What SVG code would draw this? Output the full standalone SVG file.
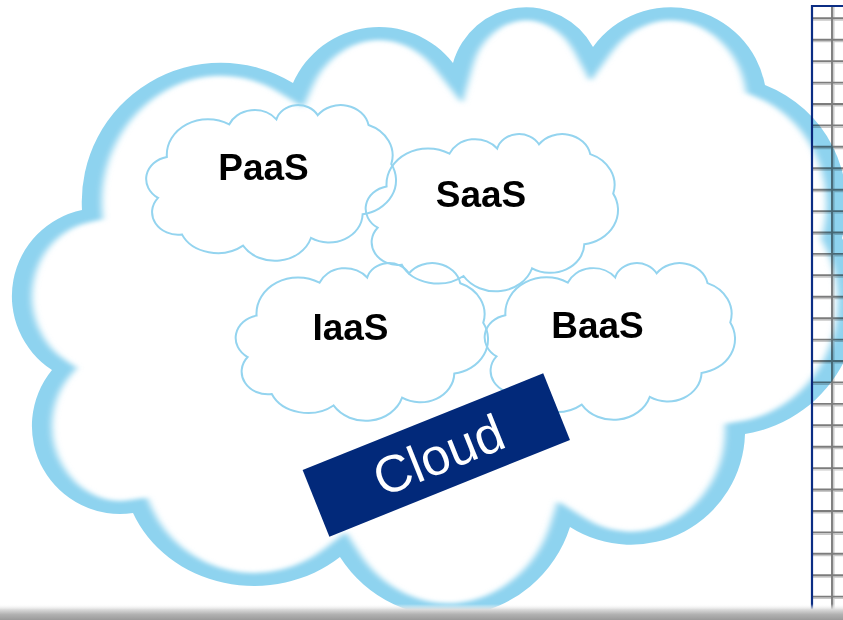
<svg xmlns="http://www.w3.org/2000/svg" xmlns:xlink="http://www.w3.org/1999/xlink" width="843" height="620" viewBox="0 0 843 620">
  <style>
    .label { font-family: "Liberation Sans", Arial, sans-serif; font-weight: bold; font-size: 37px; fill: #000; text-anchor: middle; }
    .small { fill: none; stroke: #94D4EF; stroke-width: 2; }
    .tag-text { font-family: "Liberation Sans", Arial, sans-serif; font-size: 52px; fill: #fff; text-anchor: middle; }
    .grid-dark { fill: none; stroke: #7c7c7c; stroke-width: 1.9; }
    .grid-light { fill: none; stroke: #c8c8c8; stroke-width: 1.4; }
  </style>
  <defs>
    <!-- cloud outline, x coordinates compressed by 1.55 so a horizontal stretch widens the side walls -->
    <path id="cloudPath" d="M33.55 370 A56.77 88 0 0 1 52.90 210 A89.68 139 0 0 1 189.03 83 A60.65 94 0 0 1 292.26 63 A49.03 76 0 0 1 382.58 47 A61.94 96 0 0 1 493.55 85 A82.58 128 0 0 1 543.23 238 A86.45 134 0 0 1 480.65 434 A73.55 114 0 0 1 367.74 527 A82.58 128 0 0 1 219.35 557 A84.52 118 0 0 1 85.81 513 A56.77 88 0 0 1 33.55 370 Z"/>
    <path id="cloudThin" vector-effect="non-scaling-stroke" d="M33.55 370 A56.77 88 0 0 1 52.90 210 A89.68 139 0 0 1 189.03 83 A60.65 94 0 0 1 292.26 63 A49.03 76 0 0 1 382.58 47 A61.94 96 0 0 1 493.55 85 A82.58 128 0 0 1 543.23 238 A86.45 134 0 0 1 480.65 434 A73.55 114 0 0 1 367.74 527 A82.58 128 0 0 1 219.35 557 A84.52 118 0 0 1 85.81 513 A56.77 88 0 0 1 33.55 370 Z"/>
    <clipPath id="bigClip">
      <use xlink:href="#cloudPath"/>
    </clipPath>
    <filter id="soft" x="-20%" y="-20%" width="140%" height="140%">
      <feGaussianBlur stdDeviation="2.3"/>
    </filter>
    <linearGradient id="shadeGrad" x1="0" y1="0" x2="0" y2="1">
      <stop offset="0" stop-color="#ffffff" stop-opacity="0"/>
      <stop offset="0.35" stop-color="#dadada"/>
      <stop offset="0.65" stop-color="#b2b2b2"/>
      <stop offset="1" stop-color="#9a9a9a"/>
    </linearGradient>
  </defs>

  <rect width="843" height="620" fill="#fff"/>

  <!-- large outer cloud -->
  <g id="cloud-main" transform="scale(1.55,1)">
    <g clip-path="url(#bigClip)">
      <use xlink:href="#cloudPath" fill="none" stroke="#8ED3EF" stroke-width="26" filter="url(#soft)"/>
    </g>
  </g>

  <!-- inner service clouds -->
  <g id="paas">
    <use xlink:href="#cloudThin" class="small" transform="translate(142.66,103.21) scale(0.45766,0.25574)"/>
    <text class="label" x="263.5" y="180">PaaS</text>
  </g>
  <g id="saas">
    <use xlink:href="#cloudThin" class="small" transform="translate(362.12,132.19) scale(0.46225,0.2582)"/>
    <text class="label" x="481" y="207">SaaS</text>
  </g>
  <g id="iaas">
    <use xlink:href="#cloudThin" class="small" transform="translate(232.12,261.19) scale(0.46225,0.25902)"/>
    <text class="label" x="350.5" y="340">IaaS</text>
  </g>
  <g id="baas">
    <use xlink:href="#cloudThin" class="small" transform="translate(481.15,261.2) scale(0.45858,0.25738)"/>
    <text class="label" x="597.5" y="338">BaaS</text>
  </g>

  <!-- tilted title tag -->
  <g id="cloud-label" transform="translate(436.3,455) rotate(-21.9)">
    <rect x="-129.65" y="-35.9" width="259.3" height="71.8" fill="#02297A"/>
    <text class="tag-text" x="2" y="19">Cloud</text>
  </g>

  <!-- ruled grid at the right edge -->
  <g id="grid" style="mix-blend-mode:multiply">
    <path class="grid-light" d="M813 20.1h30M813 41.5h30M813 62.9h30M813 84.4h30M813 105.8h30M813 127.2h30M813 148.6h30M813 170h30M813 191.5h30M813 212.9h30M813 234.3h30M813 255.7h30M813 277.1h30M813 298.6h30M813 320h30M813 341.4h30M813 362.8h30M813 384.2h30M813 405.7h30M813 427.1h30M813 448.5h30M813 469.9h30M813 491.3h30M813 512.8h30M813 534.2h30M813 555.6h30M813 577h30M813 598.4h30M833.8 6V620"/>
    <path class="grid-dark" d="M813 18.3h30M813 39.7h30M813 61.1h30M813 82.6h30M813 104h30M813 125.4h30M813 146.8h30M813 168.2h30M813 189.7h30M813 211.1h30M813 232.5h30M813 253.9h30M813 275.3h30M813 296.8h30M813 318.2h30M813 339.6h30M813 361h30M813 382.4h30M813 403.9h30M813 425.3h30M813 446.7h30M813 468.1h30M813 489.5h30M813 511h30M813 532.4h30M813 553.8h30M813 575.2h30M813 596.6h30M832 6V620"/>
    <path d="M812 620V6H843" fill="none" stroke="#0B2D84" stroke-width="2.2"/>
  </g>

  <!-- shadow strip along the bottom -->
  <rect id="shade" x="0" y="604" width="843" height="16" fill="url(#shadeGrad)"/>
</svg>
